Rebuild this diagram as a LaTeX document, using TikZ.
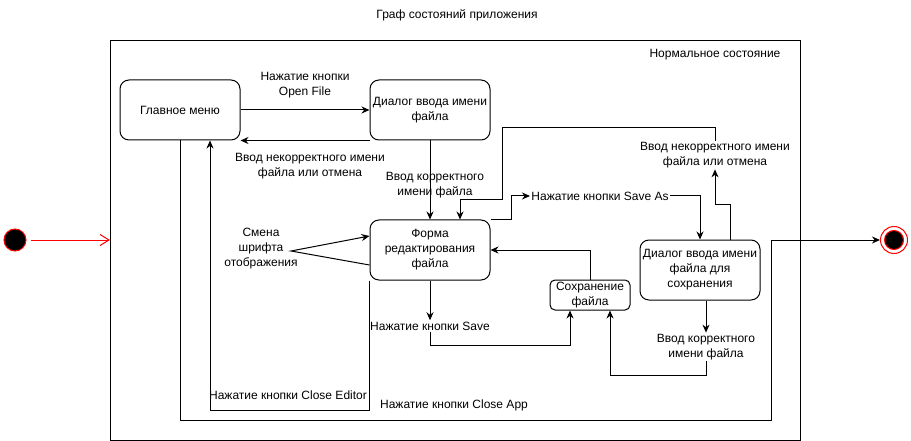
\documentclass[tikz,border=0pt]{standalone}
\usepackage{fontspec}
\setmainfont{Liberation Sans}
\usepackage{xcolor}
\definecolor{StateRed}{rgb}{1.0, 0.0, 0.0}
\usepackage{tikz}
\usetikzlibrary{calc, positioning, arrows.meta}

\begin{document}
\begin{tikzpicture}[
    x=1pt, y=-1pt,
    font=\fontsize{12pt}{15pt}\selectfont,
    line width=1pt,
    edge/.style={-{Stealth[length=8pt, width=7pt]}, black},
    init_edge/.style={-{Straight Barb[length=9pt, width=11pt]}, StateRed},
    state/.style={draw, rounded corners=9pt, minimum width=120pt, minimum height=60pt, align=center, inner sep=2pt},
    small_state/.style={draw, rounded corners=5pt, minimum width=80pt, minimum height=30pt, align=center, inner sep=1pt},
    lbl/.style={align=center, inner sep=1pt}
]
    \useasboundingbox (0,0) rectangle (911,441);

    % 1. TITLE AND COMPOSITE STATE
    \node[lbl] (title) at (457,15) {Граф состояний приложения};
    \node[draw, minimum width=690pt, minimum height=400pt, anchor=north west, inner sep=0pt] (normal) at (110,40) {};
    \node[lbl] (normal_name) at (715,55) {Нормальное состояние};

    % 2. START AND FINISH
    \node[circle, fill=black, draw=StateRed, minimum size=22pt, inner sep=0pt] (start) at (15,240) {};
    \node[circle, draw=StateRed, minimum size=27pt, inner sep=0pt] (finish) at (894,240) {};
    \node[circle, fill=black, draw=StateRed, minimum size=19pt, inner sep=0pt] (finish_core) at (finish) {};
    \coordinate (exitpt) at (771,240);

    % 3. STATES
    \node[state] (menu) at (180,110) {Главное меню};
    \node[state] (dlgopen) at (430,110) {Диалог ввода имени\\файла};
    \node[state] (form) at (430,250) {Форма\\редактирования\\файла};
    \node[small_state] (save) at (590,295) {Сохранение\\файла};
    \node[state] (dlgsave) at (700,270) {Диалог ввода имени\\файла для\\сохранения};

    % 4. TRANSITION TEXTS
    \node[lbl] (lbl_open) at (305,85) {Нажатие кнопки\\Open File};
    \node[lbl] (lbl_bad1) at (310,166) {Ввод некорректного имени\\файла или отмена};
    \node[lbl] (lbl_ok1) at (435,185) {Ввод корректного\\имени файла};
    \node[lbl] (lbl_font) at (261,249) {Смена\\шрифта\\отображения};
    \coordinate (fontpt) at (291,251);
    \node[lbl] (lbl_saveas) at (600,196) {Нажатие кнопки Save As};
    \node[lbl] (lbl_bad2) at (715,155) {Ввод некорректного имени\\файла или отмена};
    \node[lbl] (lbl_save) at (430,326) {Нажатие кнопки Save};
    \node[lbl] (lbl_ok2) at (706,347) {Ввод корректного\\имени файла};
    \node[lbl] (lbl_closeed) at (288,395) {Нажатие кнопки Close Editor};
    \node[lbl] (lbl_closeapp) at (454,405) {Нажатие кнопки Close App};

    % 5. TRANSITIONS
    \draw[init_edge, shorten <=4pt] (start.east) -- (start.east -| normal.west);
    \draw[edge] (menu) -- (dlgopen);
    \draw[edge] (dlgopen.south west) -- (menu.south east);
    \draw[edge] (dlgopen) -- (form);
    \draw[edge] ([yshift=-15pt]form.west) -- (fontpt) -- ([yshift=14pt]form.west);
    \draw[edge] (form.north east) -- ++(21,0) |- (lbl_saveas.west);
    \draw[edge] (lbl_saveas.east) -| (dlgsave.north);
    \draw[edge] ([xshift=-30pt]dlgsave.north east) -- ++(0,-35) -| (lbl_bad2.south);
    \draw[edge] (lbl_bad2.north) |- (502,128) |- (460,200) -- ([xshift=30pt]form.north);
    \draw[edge] (form) -- (lbl_save);
    \draw[edge] (lbl_save.south) -- ++(0,14) -| ([xshift=-20pt]save.south);
    \draw[edge] (save.north) |- (form.east);
    \draw[edge] (dlgsave.south -| lbl_ok2) -- (lbl_ok2);
    \draw[edge] (lbl_ok2.south) -- ++(0,14) -| ([xshift=20pt]save.south);
    \draw[edge] (form.south west) -- ++(0,130) -| ([xshift=30pt]menu.south);
    \draw[edge] (menu.south) -- ++(0,280) -| (exitpt) -- (finish);

\end{tikzpicture}
\end{document}
